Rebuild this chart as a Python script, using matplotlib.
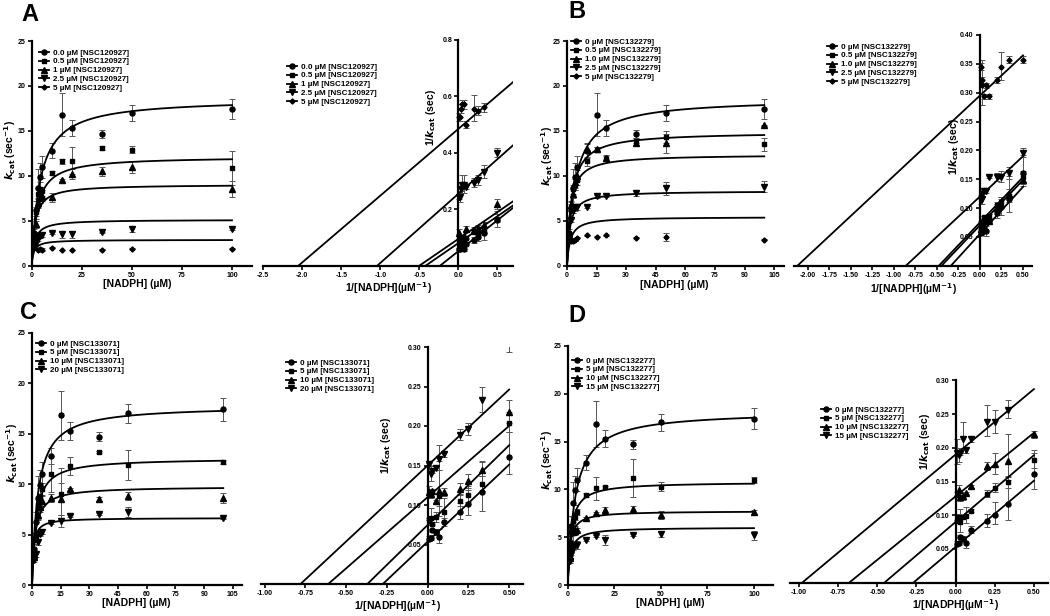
import numpy as np
import matplotlib
matplotlib.use('Agg')
import matplotlib.pyplot as plt

plt.rcParams['font.family'] = ['Liberation Sans Narrow', 'Liberation Sans', 'DejaVu Sans']
plt.rcParams['font.weight'] = 'bold'
plt.rcParams['axes.unicode_minus'] = False
plt.rcParams['mathtext.fontset'] = 'custom'
plt.rcParams['mathtext.rm'] = 'Liberation Sans Narrow:bold'
plt.rcParams['mathtext.it'] = 'Liberation Sans Narrow:bold:italic'
plt.rcParams['mathtext.bf'] = 'Liberation Sans Narrow:bold'

# NADPH concentrations (uM)
nadph = np.array([1, 2, 3, 4, 5, 10, 15, 20, 35, 50, 100])

# no-inhibitor control, shared by all four panels
ctrl = [3.6, 6.2, 8.6, 9.9, 11.0, 12.8, 16.8, 15.3, 14.7, 17.0, 17.4]
ctrl_err = [0.5, 1.0, 2.2, 1.5, 1.2, 0.8, 2.4, 0.9, 0.45, 0.9, 1.1]

# panel A - NSC120927
a_labels = ['0.0 µM [NSC120927]', '0.5 µM [NSC120927]', '1 µM [NSC120927]',
            '2.5 µM [NSC120927]', '5 µM [NSC120927]']
a05 = [3.5, 6.0, 8.0, 8.5, 8.3, 10.3, 11.6, 11.7, 13.1, 12.9, 10.9]
a05_err = [0.3, 0.5, 0.6, 0.8, 0.5, 0.2, 0.3, 1.5, 0.2, 0.4, 1.9]
a1 = [3.0, 4.6, 7.0, 7.5, 7.8, 7.6, 9.5, 10.2, 10.5, 11.0, 8.5]
a1_err = [0.3, 0.4, 0.5, 0.5, 0.6, 0.5, 0.1, 0.6, 0.5, 0.7, 0.9]
a25 = [2.2, 2.5, 3.0, 3.3, 3.4, 3.6, 3.5, 3.5, 3.7, 4.1, 4.1]
a25_err = [0.2, 0.1, 0.2, 0.2, 0.2, 0.1, 0.4, 0.4, 0.1, 0.3, 0.1]
a5 = [2.2, np.nan, 1.78, 1.82, 1.8, 2.0, 1.75, 1.75, 1.8, 1.9, 1.9]
a5_err = [0.1, 0.0, 0.05, 0.05, 0.15, 0.05, 0.05, 0.05, 0.05, 0.05, 0.05]
a_vmax = [18.6, 12.15, 9.04, 5.12, 2.88]
a_km = [4.1, 2.6, 1.6, 1.4, 1.0]
a_lb_xint = [-0.235, -0.42, -0.5, -1.04, -2.05]
a_lb_yint = [0.0515, 0.080, 0.095, 0.255, 0.485]

# panel B - NSC132279
b_labels = ['0 µM [NSC132279]', '0.5 µM [NSC132279]', '1.0 µM [NSC132279]',
            '2.5 µM [NSC132279]', '5 µM [NSC132279]']
b05 = [3.5, 6.5, 8.5, 9.0, 9.5, 11.6, 12.9, 11.9, 13.9, 14.3, 13.5]
b05_err = [0.3, 0.4, 0.5, 0.6, 0.5, 0.5, 0.3, 0.3, 0.3, 0.7, 0.7]
b1 = [3.3, 6.7, 8.0, 9.3, 10.0, 13.0, 13.0, 12.0, 13.7, 13.6, 15.6]
b1_err = [0.3, 0.4, 0.5, 0.6, 0.6, 0.5, 0.2, 0.3, 0.3, 1.1, 0.1]
b25 = [3.0, 5.1, 6.25, 6.5, 6.5, 6.5, 7.7, 7.7, 8.1, 8.6, 8.8]
b25_err = [0.2, 0.2, 0.4, 0.4, 0.3, 0.1, 0.2, 0.1, 0.3, 0.7, 0.6]
b5 = [2.7, 2.8, 2.8, 2.9, 3.1, 3.4, 3.2, 3.4, 3.1, 3.2, 2.9]
b5_err = [0.1, 0.05, 0.05, 0.2, 0.05, 0.05, 0.05, 0.05, 0.05, 0.4, 0.05]
b_vmax = [18.6, 14.88, 12.37, 8.32, 5.43]
b_km = [4.1, 2.35, 1.67, 1.48, 1.6]
b_lb_xint = [-0.337, -0.446, -0.477, -0.86, -2.12]
b_lb_yint = [0.055, 0.070, 0.075, 0.12, 0.295]

# panel C - NSC133071
c_labels = ['0 µM [NSC133071]', '5 µM [NSC133071]', '10 µM [NSC133071]',
            '20 µM [NSC133071]']
c5 = [3.0, 4.9, 7.9, 8.85, 9.5, 11.0, 9.0, 11.8, 13.2, 11.9, 12.2]
c5_err = [0.3, 0.3, 0.6, 0.8, 0.6, 1.8, 2.6, 0.9, 0.1, 1.5, 0.2]
c10 = [2.8, 4.6, 6.9, 7.7, 8.3, 8.6, 8.5, 9.5, 8.5, 8.8, 8.6]
c10_err = [0.3, 0.3, 0.4, 0.5, 0.5, 0.4, 1.6, 0.1, 0.2, 0.4, 0.5]
c20 = [2.5, 3.1, 4.3, 5.1, 5.3, 6.1, 6.3, 6.8, 7.0, 7.2, 6.6]
c20_err = [0.2, 0.3, 0.3, 0.2, 0.2, 0.1, 0.6, 0.1, 0.1, 0.5, 0.05]
c_vmax = [17.77, 12.56, 9.76, 6.65]
c_km = [3.0, 2.0, 1.64, 0.73]
c_lb_xint = [-0.275, -0.37, -0.61, -0.78]
c_lb_yint = [0.0536, 0.0747, 0.11, 0.15]

# panel D - NSC132277
d_labels = ['0 µM [NSC132277]', '5 µM [NSC132277]', '10 µM [NSC132277]',
            '15 µM [NSC132277]']
d5 = [3.0, 5.5, 6.7, 7.1, 7.6, 9.4, 10.1, 10.2, 11.2, 10.3, 11.0]
d5_err = [0.3, 0.4, 0.4, 0.3, 0.3, 0.2, 1.2, 0.2, 2.0, 0.5, 0.3]
d10 = [2.8, 4.55, 5.55, 5.7, 5.8, 7.0, 7.5, 7.8, 7.9, 7.3, 7.6]
d10_err = [0.2, 0.1, 1.0, 0.5, 0.2, 0.1, 0.1, 0.4, 0.4, 0.4, 0.2]
d15 = [2.5, 3.2, 3.9, 4.2, 4.2, 4.7, 5.1, 4.7, 5.2, 5.3, 5.2]
d15_err = [0.2, 0.1, 0.2, 0.3, 0.4, 0.1, 0.1, 0.5, 0.1, 0.3, 0.5]
d_vmax = [18.2, 10.78, 7.74, 6.03]
d_km = [4.0, 1.7, 1.15, 1.4]
d_lb_xint = [-0.27, -0.455, -0.68, -0.98]
d_lb_yint = [0.053, 0.09, 0.128, 0.19]

markers = ['o', 's', '^', 'v', 'D']
msizes = [3.6, 3.4, 3.8, 3.8, 2.6]

W, H = 1050, 616
fig = plt.figure(figsize=(W / 100, H / 100), dpi=100)


def px_axes(l, t, r, b):
    return fig.add_axes([l / W, 1 - b / H, (r - l) / W, (b - t) / H])


def style(ax):
    for s in ['top', 'right']:
        ax.spines[s].set_visible(False)
    for s in ['left', 'bottom']:
        ax.spines[s].set_linewidth(1.6)
    ax.tick_params(direction='out', length=3, width=1.2, labelsize=5, pad=1.5)
    ax.set_facecolor('none')


def add_legend(ax, lx, ty):
    ax.legend(loc='upper left', bbox_to_anchor=(lx / W, 1 - ty / H),
              bbox_transform=fig.transFigure, frameon=False, fontsize=5.8,
              borderpad=0, borderaxespad=0, labelspacing=0.15,
              handlelength=1.3, handletextpad=0.4)


panels = [
    dict(letter='A', labels=a_labels,
         kcat=[ctrl, a05, a1, a25, a5], err=[ctrl_err, a05_err, a1_err, a25_err, a5_err],
         vmax=a_vmax, km=a_km, xint=a_lb_xint, yint=a_lb_yint,
         mm_box=(31.7, 41, 252, 265.7), lb_box=(263.3, 40, 513, 265.7),
         mm_xticks=[0, 25, 50, 75, 100],
         lb_xlim=(-2.5, 0.7), lb_ylim=(0, 0.8), lb_end=0.7,
         lb_xticks=[-2.5, -2.0, -1.5, -1.0, -0.5, 0.0, 0.5], lb_xfmt='%.1f',
         lb_yticks=[0.2, 0.4, 0.6, 0.8], lb_yfmt='%.1f',
         letter_xy=(21, 3), mm_leg=(39, 49), lb_leg=(287, 63),
         mm_ylab=(18, 150), mm_xlab=(137, 279), lb_ylab=(438, 117), lb_xlab=(388, 280)),
    dict(letter='B', labels=b_labels,
         kcat=[ctrl, b05, b1, b25, b5], err=[ctrl_err, b05_err, b1_err, b25_err, b5_err],
         vmax=b_vmax, km=b_km, xint=b_lb_xint, yint=b_lb_yint,
         mm_box=(567, 41, 784, 265.7), lb_box=(794, 35, 1031.6, 265.7),
         mm_xticks=[0, 15, 30, 45, 60, 75, 90, 105],
         lb_xlim=(-2.16, 0.6), lb_ylim=(0, 0.40), lb_end=0.5,
         lb_xticks=[-2.0, -1.75, -1.5, -1.25, -1.0, -0.75, -0.5, -0.25, 0.0, 0.25, 0.5],
         lb_xfmt='%.2f',
         lb_yticks=[0.05, 0.10, 0.15, 0.20, 0.25, 0.30, 0.35, 0.40], lb_yfmt='%.2f',
         letter_xy=(568, 0), mm_leg=(571, 38), lb_leg=(827, 43),
         mm_ylab=(555, 156), mm_xlab=(674, 280), lb_ylab=(961, 146), lb_xlab=(913, 281)),
    dict(letter='C', labels=c_labels,
         kcat=[ctrl, c5, c10, c20], err=[ctrl_err, c5_err, c10_err, c20_err],
         vmax=c_vmax, km=c_km, xint=c_lb_xint, yint=c_lb_yint,
         mm_box=(32, 332.7, 242.4, 585), lb_box=(261.4, 347, 523, 584),
         mm_xticks=[0, 15, 30, 45, 60, 75, 90, 105],
         lb_xlim=(-1.02, 0.585), lb_ylim=(0, 0.30), lb_end=0.5,
         lb_xticks=[-1.0, -0.75, -0.5, -0.25, 0.0, 0.25, 0.5], lb_xfmt='%.2f',
         lb_yticks=[0.05, 0.10, 0.15, 0.20, 0.25, 0.30], lb_yfmt='%.2f',
         letter_xy=(20, 301), mm_leg=(36, 340), lb_leg=(286, 359),
         mm_ylab=(20, 453), mm_xlab=(136, 598), lb_ylab=(393, 445), lb_xlab=(397, 598)),
    dict(letter='D', labels=d_labels,
         kcat=[ctrl, d5, d10, d15], err=[ctrl_err, d5_err, d10_err, d15_err],
         vmax=d_vmax, km=d_km, xint=d_lb_xint, yint=d_lb_yint,
         mm_box=(567.7, 346, 772.6, 585), lb_box=(789.6, 380.3, 1048, 582.7),
         mm_xticks=[0, 25, 50, 75, 100],
         lb_xlim=(-1.06, 0.59), lb_ylim=(0, 0.30), lb_end=0.5,
         lb_xticks=[-1.0, -0.75, -0.5, -0.25, 0.0, 0.25, 0.5], lb_xfmt='%.2f',
         lb_yticks=[0.05, 0.10, 0.15, 0.20, 0.25, 0.30], lb_yfmt='%.2f',
         letter_xy=(568, 304), mm_leg=(572, 357), lb_leg=(821, 406),
         mm_ylab=(555, 460), mm_xlab=(670, 598), lb_ylab=(932, 441), lb_xlab=(955, 597)),
]

s_fit = np.linspace(0, 100, 400)
inv_s = 1.0 / nadph

for p in panels:
    # Michaelis-Menten plot
    ax = px_axes(*p['mm_box'])
    style(ax)
    for i, (v, e) in enumerate(zip(p['kcat'], p['err'])):
        v = np.array(v, dtype=float)
        ax.errorbar(nadph, v, yerr=e, fmt='none', ecolor='#555555', elinewidth=0.7,
                    capsize=2, capthick=0.7, zorder=2)
        ax.plot(nadph, v, ls='none', marker=markers[i], ms=msizes[i], color='black',
                zorder=3)
        ax.plot(s_fit, p['vmax'][i] * s_fit / (p['km'][i] + s_fit), color='black',
                lw=1.3, zorder=4)
        ax.plot([], [], color='black', lw=1.3, marker=markers[i], ms=msizes[i],
                label=p['labels'][i])
    ax.set_xlim(0, 110)
    ax.set_ylim(0, 25)
    ax.set_xticks(p['mm_xticks'])
    ax.set_yticks([0, 5, 10, 15, 20, 25])
    ax.set_xlabel('[NADPH] (µM)', fontsize=7.5, fontweight='bold')
    ax.set_ylabel(r'$k_{\rm cat}$ (sec$^{-1}$)', fontsize=7.5, fontweight='bold')
    ax.xaxis.set_label_coords(p['mm_xlab'][0] / W, 1 - p['mm_xlab'][1] / H,
                              transform=fig.transFigure)
    ax.yaxis.set_label_coords(p['mm_ylab'][0] / W, 1 - p['mm_ylab'][1] / H,
                              transform=fig.transFigure)
    add_legend(ax, *p['mm_leg'])

    # Lineweaver-Burk plot
    ax = px_axes(*p['lb_box'])
    style(ax)
    ax.spines['left'].set_position(('data', 0))
    for i, (v, e) in enumerate(zip(p['kcat'], p['err'])):
        v = np.array(v, dtype=float)
        e = np.array(e, dtype=float)
        r = 1.0 / v
        lo = r - 1.0 / (v + e)
        hi = 1.0 / (v - e) - r
        ax.errorbar(inv_s, r, yerr=[lo, hi], fmt='none', ecolor='#555555',
                    elinewidth=0.7, capsize=2, capthick=0.7, zorder=2)
        ax.plot(inv_s, r, ls='none', marker=markers[i], ms=msizes[i], color='black',
                zorder=3)
        x0 = p['xint'][i]
        y_end = p['yint'][i] * (1 - p['lb_end'] / x0)
        ax.plot([x0, p['lb_end']], [0, y_end], color='black', lw=1.3, zorder=4)
        ax.plot([], [], color='black', lw=1.3, marker=markers[i], ms=msizes[i],
                label=p['labels'][i])
    ax.set_xlim(*p['lb_xlim'])
    ax.set_ylim(*p['lb_ylim'])
    ax.set_xticks(p['lb_xticks'])
    ax.set_xticklabels([p['lb_xfmt'] % t for t in p['lb_xticks']])
    ax.set_yticks(p['lb_yticks'])
    ax.set_yticklabels([p['lb_yfmt'] % t for t in p['lb_yticks']])
    ax.set_xlabel(r'1/[NADPH](µM$^{-1}$)', fontsize=7.5, fontweight='bold')
    ax.set_ylabel(r'1/$k_{\rm cat}$ (sec)', fontsize=7.5, fontweight='bold')
    ax.xaxis.set_label_coords(p['lb_xlab'][0] / W, 1 - p['lb_xlab'][1] / H,
                              transform=fig.transFigure)
    ax.yaxis.set_label_coords(p['lb_ylab'][0] / W, 1 - p['lb_ylab'][1] / H,
                              transform=fig.transFigure)
    add_legend(ax, *p['lb_leg'])

    fig.text(p['letter_xy'][0] / W, 1 - p['letter_xy'][1] / H, p['letter'],
             fontsize=17, fontweight='bold', family='Liberation Sans',
             ha='left', va='top')

fig.savefig('out.png', dpi=100)
